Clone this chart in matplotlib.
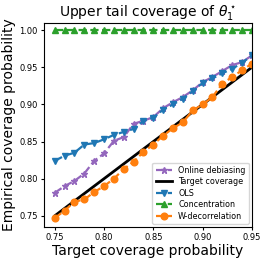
import matplotlib
matplotlib.use("Agg")
import matplotlib.pyplot as plt
import numpy as np

target = [0.75, 0.76, 0.77, 0.78, 0.79, 0.80, 0.81, 0.82, 0.83, 0.84, 0.85,
          0.86, 0.87, 0.88, 0.89, 0.90, 0.91, 0.92, 0.93, 0.94, 0.95]
online_debiasing = [0.781, 0.790, 0.797, 0.807, 0.824, 0.834, 0.851, 0.856, 0.874, 0.878, 0.883,
                    0.895, 0.903, 0.910, 0.919, 0.930, 0.937, 0.945, 0.953, 0.957, 0.966]
ols = [0.824, 0.831, 0.835, 0.846, 0.848, 0.853, 0.859, 0.863, 0.867, 0.878, 0.882,
       0.893, 0.900, 0.908, 0.918, 0.929, 0.935, 0.942, 0.948, 0.956, 0.966]
concentration = [1.0] * 21
w_decorrelation = [0.747, 0.757, 0.769, 0.772, 0.782, 0.790, 0.800, 0.813, 0.823, 0.836, 0.846,
                   0.858, 0.868, 0.876, 0.892, 0.900, 0.910, 0.928, 0.937, 0.946, 0.955]

fig = plt.figure(figsize=(2.66, 2.63), dpi=100)
ax = fig.add_axes([0.165, 0.137, 0.782, 0.775])

ms = 4.8
ax.plot(target, online_debiasing, '--', marker='*', color='tab:purple', ms=ms, lw=1.6, label='Online debiasing')
ax.plot(target, target, '-', color='black', lw=2, label='Target coverage')
ax.plot(target, ols, '--', marker='v', color='tab:blue', ms=ms, lw=1.6, label='OLS')
ax.plot(target, concentration, '--', marker='^', color='tab:green', ms=ms, lw=1.6, label='Concentration')
ax.plot(target, w_decorrelation, '--', marker='o', color='tab:orange', ms=ms, lw=1.6, label='W-decorrelation')

ax.set_xlim(0.739, 0.95)
ax.set_ylim(0.735, 1.0095)
ax.set_xticks([0.75, 0.80, 0.85, 0.90, 0.95])
ax.set_yticks([0.75, 0.80, 0.85, 0.90, 0.95, 1.00])
ax.tick_params(labelsize=6, length=2.5, pad=2)
ax.set_xlabel('Target coverage probability', fontsize=10, labelpad=1)
ax.set_ylabel('Empirical coverage probability', fontsize=10, labelpad=2)
ax.set_title(r'Upper tail coverage of $\theta_1^\star$', fontsize=10, pad=3)
ax.legend(loc='lower right', fontsize=5.8, handlelength=2, borderpad=0.4, labelspacing=0.3,
          borderaxespad=0.4)

fig.savefig('out.png', dpi=100)
